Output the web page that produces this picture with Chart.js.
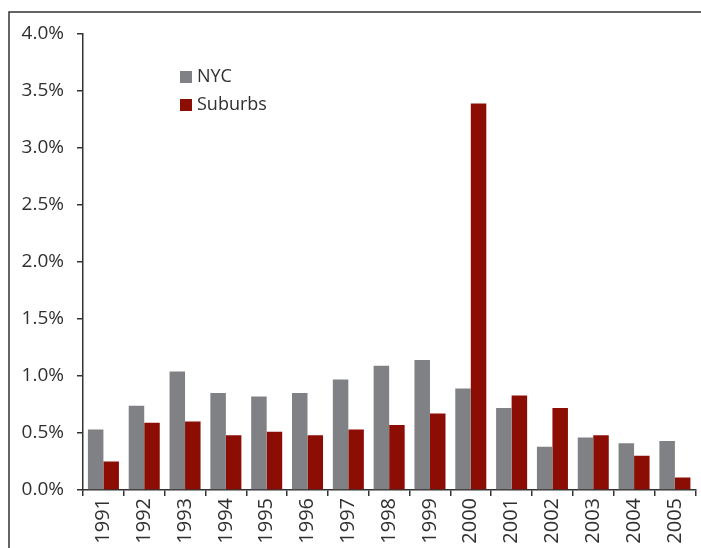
<!DOCTYPE html>
<html>
<head>
<meta charset="utf-8">
<script src="https://cdn.jsdelivr.net/npm/chart.js@4/dist/chart.umd.min.js"></script>
<style>
  html, body { margin: 0; padding: 0; background: #fff; }
  #wrap { width: 701px; height: 548px; }
</style>
</head>
<body>
<div id="wrap"><canvas id="growthChart" width="701" height="548"></canvas></div>
<script>
const years = ['1991', '1992', '1993', '1994', '1995', '1996', '1997', '1998',
    '1999', '2000', '2001', '2002', '2003', '2004', '2005']
const nyc = [0.53, 0.74, 1.04, 0.85, 0.82, 0.85, 0.97, 1.09, 1.14, 0.89, 0.72, 0.38, 0.46, 0.41, 0.43]
const suburbs = [0.25, 0.59, 0.60, 0.48, 0.51, 0.48, 0.53, 0.57, 0.67, 3.39, 0.83, 0.72, 0.48, 0.30, 0.11]
const yTicks = [0, 0.5, 1.0, 1.5, 2.0, 2.5, 3.0, 3.5, 4.0]

const FONT = '"Open Sans", "DejaVu Sans", sans-serif'
const INK = '#303030'

// frame round the picture, open at right and bottom
const framePlugin = {
    id: 'frame',
    beforeDraw(chart) {
        const ctx = chart.ctx
        ctx.save()
        ctx.strokeStyle = '#333'
        ctx.lineWidth = 1.5
        ctx.beginPath()
        ctx.moveTo(9, chart.height)
        ctx.lineTo(9, 12)
        ctx.lineTo(chart.width, 12)
        ctx.stroke()
        ctx.restore()
    }
}

// legend sitting inside the plot, stacked
const insideLegend = {
    id: 'insideLegend',
    afterDraw(chart) {
        const ctx = chart.ctx
        const area = chart.chartArea
        ctx.save()
        ctx.font = '18px ' + FONT
        ctx.textBaseline = 'middle'
        chart.data.datasets.forEach((ds, i) => {
            const x = area.left + 97
            const y = area.top + 37 + i * 28
            ctx.fillStyle = ds.backgroundColor
            ctx.fillRect(x, y, 12, 12)
            ctx.fillStyle = INK
            ctx.fillText(ds.label, x + 17, y + 6)
        })
        ctx.restore()
    }
}

const myChart = new Chart(document.getElementById('growthChart'), {
    type: 'bar',
    data: {
        labels: years,
        datasets: [{
            label: 'NYC',
            data: nyc,
            backgroundColor: '#808184',
            barPercentage: 1,
            categoryPercentage: 0.76
        }, {
            label: 'Suburbs',
            data: suburbs,
            backgroundColor: '#8b0d04',
            barPercentage: 1,
            categoryPercentage: 0.76
        }]
    },
    options: {
        responsive: false,
        animation: false,
        devicePixelRatio: 1,
        layout: { padding: { left: 0, top: 34, right: 3, bottom: 0 } },
        plugins: {
            legend: { display: false },
            title: { display: false },
            tooltip: { enabled: false }
        },
        scales: {
            x: {
                offset: true,
                grid: {
                    offset: true,
                    drawOnChartArea: false,
                    drawTicks: true,
                    tickLength: 6,
                    color: '#333',
                    lineWidth: 1.5
                },
                border: { display: true, color: '#333', width: 1.5 },
                ticks: {
                    color: INK,
                    font: { family: FONT, size: 20 },
                    minRotation: 90,
                    maxRotation: 90,
                    padding: 2
                },
                afterFit: s => { s.height = 58 }
            },
            y: {
                min: 0,
                max: 4,
                afterBuildTicks: s => { s.ticks = yTicks.map(v => ({ value: v })) },
                grid: {
                    drawOnChartArea: false,
                    drawTicks: true,
                    tickLength: 6,
                    color: '#333',
                    lineWidth: 1.5
                },
                border: { display: true, color: '#333', width: 1.5 },
                ticks: {
                    color: INK,
                    font: { family: FONT, size: 19 },
                    padding: 13,
                    callback: v => v.toFixed(1) + '%'
                },
                afterFit: s => { s.width = 83 }
            }
        }
    },
    plugins: [framePlugin, insideLegend]
})
</script>
</body>
</html>
